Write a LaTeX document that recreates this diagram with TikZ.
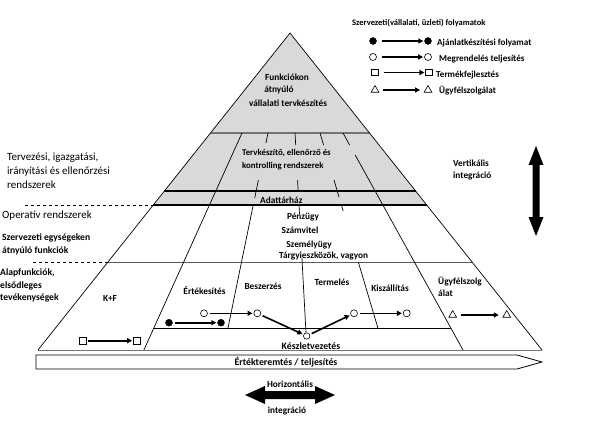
\documentclass[tikz,border=0pt]{standalone}
\usepackage{fontspec}
\setmainfont{Carlito}
\usetikzlibrary{arrows.meta,shapes.geometric}
\definecolor{graybg}{HTML}{D9D9D9}
\begin{document}
\begin{tikzpicture}[x=1pt,y=-1pt,
  lab/.style={font=\fontsize{9.3}{11}\selectfont\bfseries, inner sep=0pt},
  leg/.style={font=\fontsize{9.1}{11}\selectfont\bfseries, inner sep=0pt, anchor=west},
  big/.style={font=\fontsize{11}{13}\selectfont, inner sep=0pt, anchor=west},
  dotf/.style={circle, fill=black, draw=black, minimum size=7pt, inner sep=0pt},
  doto/.style={circle, fill=white, draw=black, line width=0.6pt, minimum size=7pt, inner sep=0pt},
  sq/.style={rectangle, draw=black, fill=white, line width=0.6pt, minimum size=6.5pt, inner sep=0pt},
  tri/.style={regular polygon, regular polygon sides=3, draw=black, fill=white, line width=0.6pt, minimum size=9pt, inner sep=0pt},
  proc/.style={line width=1.6pt, -{Triangle[length=5pt,width=5pt]}, shorten <=2pt, shorten >=1pt},
  edgeline/.style={line width=0.7pt},
  hline/.style={line width=1.2pt},
  dashline/.style={line width=0.6pt, dashed},
]
\useasboundingbox (0,0) rectangle (594,422);

% gray upper part
\fill[graybg] (290,33) -- (153.3,205) -- (426.7,205) -- cycle;

% horizontal lines
\draw[hline, black!55] (210.5,133) -- (369.5,133);
\draw[hline] (164.4,191) -- (415.6,191);
\draw[hline] (153.3,205) -- (426.7,205);
\draw[line width=1pt, black!65] (108,262) -- (472,262);
\draw[line width=0.9pt] (153.9,328) -- (450.8,328);
\draw[line width=1pt, black!55] (38,350) -- (542,350);

% dashed guide lines
\draw[dashline] (25,205) -- (153.3,205);
\draw[dashline] (33,262) -- (108,262);

% pyramid edges
\draw[edgeline] (38,350) -- (290,33) -- (542,350);

% radiating lines
\draw[edgeline] (242,133) -- (143.9,350);
\draw[edgeline] (268,133) -- (265.9,143) (258.4,180) -- (254.7,198) (253.2,205) -- (228,328);
\draw[edgeline] (295,133) -- (295.7,145) (297.6,180) -- (298.1,190) (299,205) -- (299.5,214) (301.9,258) -- (306,332.5);
\draw[edgeline] (320,133) -- (323.6,145) (334,180) -- (339,197) (341.4,205) -- (343.2,211) (358.3,262) -- (377.9,328);
\draw[edgeline] (343,133) -- (349.6,145) (355.2,155) -- (463,350);

% value chain bar
\draw[line width=0.8pt] (36,355) -- (517,355) -- (542,362) -- (517,369) -- (36,369) -- cycle;
\node[lab, font=\fontsize{9.8}{11}\selectfont\bfseries] (bar) at (286,362.5) {Értékteremtés / teljesítés};

% top texts
\node[lab] (t1) at (287,77) {Funkciókon};
\node[lab] (t2) at (279,90) {átnyúló};
\node[lab] (t3) at (288,103) {vállalati tervkészítés};
\node[lab, anchor=west, font=\fontsize{8.8}{11}\selectfont\bfseries] (t4) at (242,153) {Tervkészítő, ellenőrző és};
\node[lab, anchor=west, font=\fontsize{8.8}{11}\selectfont\bfseries] (t5) at (242,166) {kontrolling rendszerek};
\node[lab, anchor=west] (t6) at (260,200) {Adattárház};
\node[lab] (t7) at (303,217) {Pénzügy};
\node[lab] (t8) at (300,230) {Számvitel};
\node[lab] (t9) at (309,245) {Személyügy};
\node[lab, anchor=west] (t10) at (279,256.5) {Tárgyieszközök, vagyon};

% left texts
\node[big] (l1) at (7,158) {Tervezési, igazgatási,};
\node[big] (l2) at (7,172) {irányítási és ellenőrzési};
\node[big] (l3) at (7,185) {rendszerek};
\node[big] (l4) at (2,216) {Operatív rendszerek};
\node[lab, anchor=west, font=\fontsize{9.6}{11}\selectfont\bfseries] (l5) at (2,238) {Szervezeti egységeken};
\node[lab, anchor=west, font=\fontsize{9.6}{11}\selectfont\bfseries] (l6) at (2,251) {átnyúló funkciók};
\node[lab, anchor=west, font=\fontsize{9.6}{11}\selectfont\bfseries] (l7) at (0,273) {Alapfunkciók,};
\node[lab, anchor=west, font=\fontsize{9.6}{11}\selectfont\bfseries] (l8) at (0,285.5) {elsődleges};
\node[lab, anchor=west, font=\fontsize{9.6}{11}\selectfont\bfseries] (l9) at (0,298) {tevékenységek};

% function labels
\node[lab] (kf) at (110,298) {K+F};
\node[lab] (ert) at (204.5,291) {Értékesítés};
\node[lab] (besz) at (263,286) {Beszerzés};
\node[lab] (term) at (332,282) {Termelés};
\node[lab] (kisz) at (390,288) {Kiszállítás};
\node[lab, anchor=west] (ugy1) at (438,282) {Ügyfélszolg};
\node[lab, anchor=west] (ugy2) at (438,293) {álat};
\node[lab, font=\fontsize{9.8}{11}\selectfont\bfseries] (kesz) at (311,346.5) {Készletvezetés};

% legend
\node[leg, font=\fontsize{8.5}{10}\selectfont\bfseries] (lt) at (352,23) {Szervezeti(vállalati, üzleti) folyamatok};
\node[dotf] (la1) at (373,41) {};
\node[dotf] (la2) at (428,41) {};
\node[doto] (lb1) at (373,57) {};
\node[doto] (lb2) at (428,57) {};
\node[sq] (lc1) at (375,72.5) {};
\node[sq] (lc2) at (429,72.5) {};
\node[tri] (ld1) at (375,90) {};
\node[tri] (ld2) at (428,90) {};
\draw[proc, shorten <=5pt] (la1) -- (la2);
\draw[proc, shorten <=5pt] (lb1) -- (lb2);
\draw[proc, shorten <=5pt] (lc1) -- (lc2);
\draw[proc, shorten <=5pt, shorten >=5pt] (ld1) -- (ld2);
\node[leg] (le1) at (437,43) {Ajánlatkészítési folyamat};
\node[leg] (le2) at (439,59) {Megrendelés teljesítés};
\node[leg] (le3) at (436,75) {Termékfejlesztés};
\node[leg] (le4) at (439,91) {Ügyfélszolgálat};

% process markers
\node[sq] (s1) at (82.7,340.7) {};
\node[sq] (s2) at (136.7,340.7) {};
\node[dotf] (f1) at (169,322.7) {};
\node[dotf] (f2) at (221,322.7) {};
\node[doto] (o1) at (204,313.3) {};
\node[doto] (o2) at (257.3,313.3) {};
\node[doto, minimum size=6.5pt] (k) at (306.7,336) {};
\node[doto] (o3) at (354,313.3) {};
\node[doto] (o4) at (406.7,313.3) {};
\node[tri] (p1) at (452.7,315) {};
\node[tri] (p2) at (506.7,315) {};
\draw[proc] (s1) -- (s2);
\draw[proc] (f1) -- (f2);
\draw[proc] (o1) -- (o2);
\draw[proc] (o2) -- (k);
\draw[proc] (k) -- (o3);
\draw[proc] (o3) -- (o4);
\draw[proc, shorten <=5pt, shorten >=5pt] (p1) -- (p2);

% vertical integration arrow
\fill (536,146) -- (543.5,165) -- (539.5,165) -- (539.5,217) -- (543.5,217) -- (536,236)
  -- (528.5,217) -- (532.5,217) -- (532.5,165) -- (528.5,165) -- cycle;
\node[lab, anchor=west] (vi1) at (453,163) {Vertikális};
\node[lab, anchor=west] (vi2) at (453,176) {integráció};

% horizontal integration arrow
\fill (245,395) -- (265,386) -- (265,391) -- (315,391) -- (315,386) -- (335,395)
  -- (315,404) -- (315,399) -- (265,399) -- (265,404) -- cycle;
\node[lab] (hi1) at (290,384) {Horizontális};
\node[lab] (hi2) at (287,411) {integráció};
\end{tikzpicture}
\end{document}
